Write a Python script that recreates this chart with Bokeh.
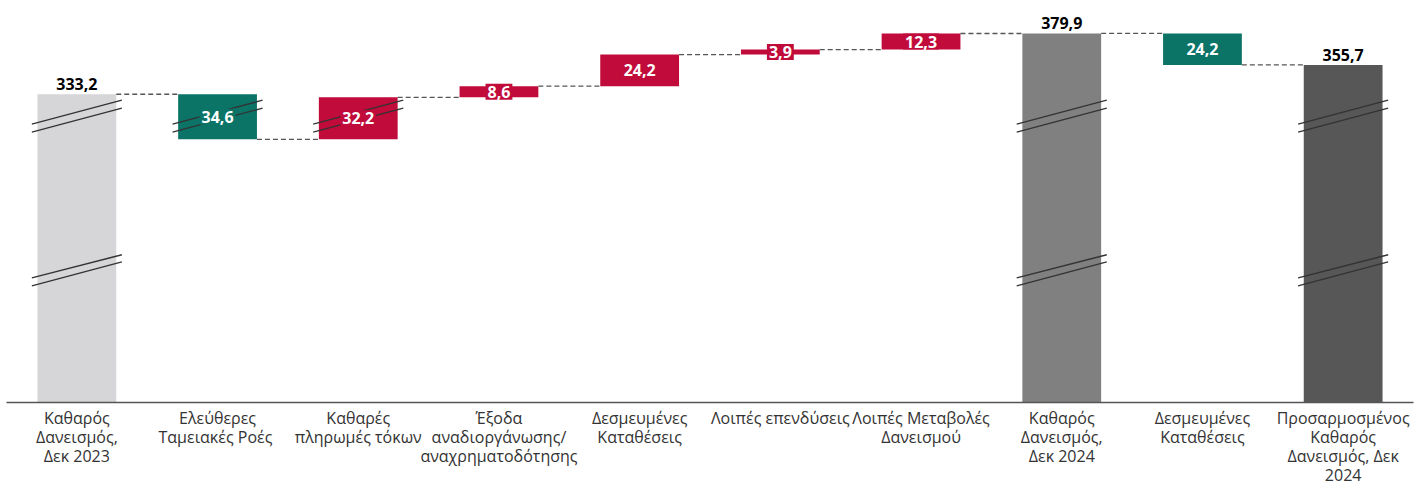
from bokeh.plotting import figure
from bokeh.models import ColumnDataSource, FactorRange, Range1d
from bokeh.core.properties import value
from bokeh.embed import file_html
from bokeh.resources import INLINE

# ---- data ----
LABELS = [
    "Καθαρός\nΔανεισμός,\nΔεκ 2023",
    "Ελεύθερες\nΤαμειακές  Ροές",
    "Καθαρές\nπληρωμές τόκων",
    "Έξοδα\nαναδιοργάνωσης/\nαναχρηματοδότησης",
    "Δεσμευμένες\nΚαταθέσεις",
    "Λοιπές επενδύσεις",
    "Λοιπές Μεταβολές\nΔανεισμού",
    "Καθαρός\nΔανεισμός,\nΔεκ 2024",
    "Δεσμευμένες\nΚαταθέσεις\u200b",
    "Προσαρμοσμένος\nΚαθαρός\nΔανεισμός, Δεκ\n2024",
]
KINDS = ["total", "dec", "inc", "inc", "inc", "inc", "inc", "total", "dec", "total"]
VALUES = [333.2, 34.6, 32.2, 8.6, 24.2, 3.9, 12.3, 379.9, 24.2, 355.7]
COLORS = ["#d6d6d8", "#0b7467", "#c00b3b", "#c00b3b", "#c00b3b", "#c00b3b",
          "#c00b3b", "#808080", "#0b7467", "#575757"]

# axis break decoration (value units) and which bars carry it
UPPER_BREAK = [(310.3, 328.6), (304.1, 322.5)]
LOWER_BREAK = [(192.3, 210.0), (186.2, 204.6)]
UPPER_BREAK_BARS = [0, 1, 2, 7, 9]
LOWER_BREAK_BARS = [0, 7, 9]

Y_START, Y_END = 96.6, 401.3
BAR_W = 0.56

# ---- waterfall geometry from data ----
bottoms, tops, levels = [], [], []
level = 0.0
for kind, v in zip(KINDS, VALUES):
    if kind == "total":
        b, t = Y_START, v
        level = v
    elif kind == "inc":
        b, t = level, level + v
        level = t
    else:
        b, t = level - v, level
        level = b
    bottoms.append(b)
    tops.append(t)
    levels.append(level)

fmt = [f"{v:.1f}".replace(".", ",") for v in VALUES]
xs = [i + 0.5 for i in range(len(LABELS))]

bars = ColumnDataSource(dict(x=LABELS, top=tops, bottom=bottoms, color=COLORS))

delta_idx = [i for i, k in enumerate(KINDS) if k != "total"]
total_idx = [i for i, k in enumerate(KINDS) if k == "total"]
dlab = ColumnDataSource(dict(
    x=[xs[i] for i in delta_idx],
    y=[(tops[i] + bottoms[i]) / 2 for i in delta_idx],
    text=[fmt[i] for i in delta_idx],
    color=[COLORS[i] for i in delta_idx],
))
tlab = ColumnDataSource(dict(
    x=[xs[i] for i in total_idx],
    y=[tops[i] for i in total_idx],
    text=[fmt[i] for i in total_idx],
))

cx0 = [xs[i] + BAR_W / 2 for i in range(len(LABELS) - 1)]
cx1 = [xs[i + 1] - BAR_W / 2 for i in range(len(LABELS) - 1)]
cy = [levels[i] for i in range(len(LABELS) - 1)]

bx0, bx1, by0, by1 = [], [], [], []
for bars_list, pairs in ((UPPER_BREAK_BARS, UPPER_BREAK), (LOWER_BREAK_BARS, LOWER_BREAK)):
    for i in bars_list:
        for (ya, yb) in pairs:
            bx0.append(xs[i] - 0.32)
            bx1.append(xs[i] + 0.32)
            by0.append(ya)
            by1.append(yb)

# ---- figure ----
p = figure(
    x_range=FactorRange(*LABELS, range_padding=0),
    y_range=Range1d(Y_START, Y_END),
    width=1424, height=488,
    output_backend="svg", toolbar_location=None,
    min_border_left=6, min_border_right=11, min_border_top=5, min_border_bottom=83,
)
p.outline_line_color = None
p.xgrid.visible = False
p.ygrid.visible = False
p.yaxis.visible = False

p.vbar(x="x", top="top", bottom="bottom", width=BAR_W, color="color", source=bars, line_width=0)
p.segment(x0=bx0, y0=by0, x1=bx1, y1=by1, line_color="#333333", line_width=1.3)
p.segment(x0=cx0, y0=cy, x1=cx1, y1=cy, line_color="#555555", line_width=1.3, line_dash="5 3")

p.text(x="x", y="y", text="text", source=dlab, text_font=value("Open Sans"),
       text_font_style="bold", text_font_size="16px", text_color="white",
       text_align="center", text_baseline="middle",
       background_fill_color="color", padding=2)
p.text(x="x", y="y", text="text", source=tlab, text_font=value("Open Sans"),
       text_font_style="bold", text_font_size="16px", text_color="black",
       text_align="center", text_baseline="bottom", y_offset=-4)

ax = p.xaxis[0]
ax.major_tick_line_color = None
ax.minor_tick_line_color = None
ax.major_tick_out = 0
ax.major_tick_in = 0
ax.axis_line_color = "#555555"
ax.axis_line_width = 1.3
ax.major_label_text_font = "Open Sans"
ax.major_label_text_font_size = "16px"
ax.major_label_text_line_height = 0.87
ax.major_label_text_color = "#333333"
ax.major_label_standoff = 4

open("out.html", "w").write(file_html(p, INLINE))
